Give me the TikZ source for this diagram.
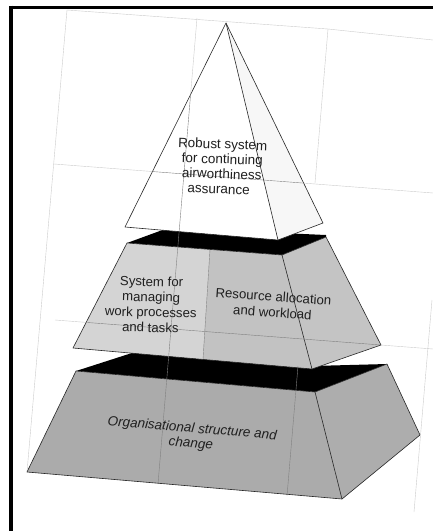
\documentclass[tikz,border=0pt]{standalone}
\usepackage{fontspec}
\setmainfont{Liberation Sans}
\newcommand\pyrgrid[1]{%
  \draw[#1] (67,10) -- (27,472);
  \draw[#1] (197,18) -- (158,484);
  \draw[#1] (67,10) -- (328,29) -- (433,40);
  \draw[#1] (328,29) -- (315,183);
  \draw[#1] (54,164) -- (433,193);
  \draw[#1] (55,320) -- (433,349);
  \draw[#1] (298,366) -- (287,496);
  \draw[#1] (432,300) -- (414,512);
}
\begin{document}
\begin{tikzpicture}[x=1pt,y=-1pt,
  edge/.style={draw=black!85,line width=0.6pt,line join=round},
  gridfaint/.style={draw=black!20,line width=0.4pt},
  gridin/.style={draw=black!50,line width=0.4pt},
  lbl/.style={align=center,inner sep=0pt,text=black!88,font=\fontsize{13.5}{15}\selectfont},
  lblm/.style={lbl,font=\fontsize{13.2}{15.3}\selectfont},
  lblr/.style={lbl,font=\fontsize{13.2}{16}\selectfont},
  lblb/.style={lbl,font=\fontsize{13.5}{15}\selectfont\itshape}]
\useasboundingbox (0,0) rectangle (433,531);
\fill[white] (0,0) rectangle (433,531);
% vertices
\coordinate (A) at (226,23);
\coordinate (L) at (125,227);
\coordinate (F) at (278,240);
\coordinate (R) at (323,223);
\coordinate (TL) at (127,243);
\coordinate (TF) at (282,255);
\coordinate (TR) at (326,237);
\coordinate (BL) at (73,348);
\coordinate (BF) at (312,369);
\coordinate (BR) at (381,345);
\coordinate (DT) at (210,249.4);
\coordinate (DB) at (203,359.4);
\coordinate (TL2) at (76,371);
\coordinate (TF2) at (315,392);
\coordinate (TR2) at (387,364);
\coordinate (BL2) at (27,472);
\coordinate (BF2) at (342,499);
\coordinate (BR2) at (420,435);
% faint background grid
\pyrgrid{gridfaint}
% bottom frustum
\fill[black] (TL2) -- (135,352) -- (312,366) -- (TR2) -- (TF2) -- cycle;
\fill[black!33] (TL2) -- (TF2) -- (BF2) -- (BL2) -- cycle;
\fill[black!32] (TF2) -- (TR2) -- (BR2) -- (BF2) -- cycle;
\draw[edge] (TL2) -- (TF2) -- (TR2) -- (BR2) -- (BF2) -- (BL2) -- cycle;
\draw[edge] (TF2) -- (BF2);
% middle frustum
\fill[black] (TL) -- (168,228) -- (326,235) -- (TR) -- (TF) -- cycle;
\fill[black!17] (TL) -- (DT) -- (DB) -- (BL) -- cycle;
\fill[black!24] (DT) -- (TF) -- (BF) -- (DB) -- cycle;
\fill[black!23] (TF) -- (TR) -- (BR) -- (BF) -- cycle;
\draw[edge] (TL) -- (TF) -- (TR) -- (BR) -- (BF) -- (BL) -- cycle;
\draw[edge] (TF) -- (BF);
% top pyramid
\fill[white] (A) -- (L) -- (F) -- cycle;
\fill[black!3] (A) -- (F) -- (R) -- cycle;
\draw[edge] (A) -- (L) -- (F) -- (R) -- cycle;
\draw[edge] (A) -- (F);
% grid over the solids
\begin{scope}
  \clip (A) -- (R) -- (F) -- (L) -- cycle
        (TL) -- (168,228) -- (326,235) -- (TR) -- (BR) -- (BF) -- (BL) -- cycle
        (TL2) -- (135,352) -- (312,366) -- (TR2) -- (BR2) -- (BF2) -- (BL2) -- cycle;
  \pyrgrid{gridin}
\end{scope}
\draw[gridin] (DT) -- (DB);
% labels
\node[lbl,rotate=-2] (top) at (222,166.5) {Robust system\\for continuing\\airworthiness\\assurance\hspace*{5pt}};
\node[lblm,rotate=-1.5] (left) at (151,304.5) {System for\\managing\\work processes\\and tasks};
\node[lblr,rotate=-4] (right) at (273,304.5) {Resource allocation\\and workload};
\node[lblb,rotate=-5] (base) at (191.5,436.5) {Organisational structure and\\change};
% frame
\draw[line width=4pt] (11.3,5.5) -- (11.3,531);
\draw[line width=3pt] (9.3,7.5) -- (433,7.5);
\end{tikzpicture}
\end{document}
